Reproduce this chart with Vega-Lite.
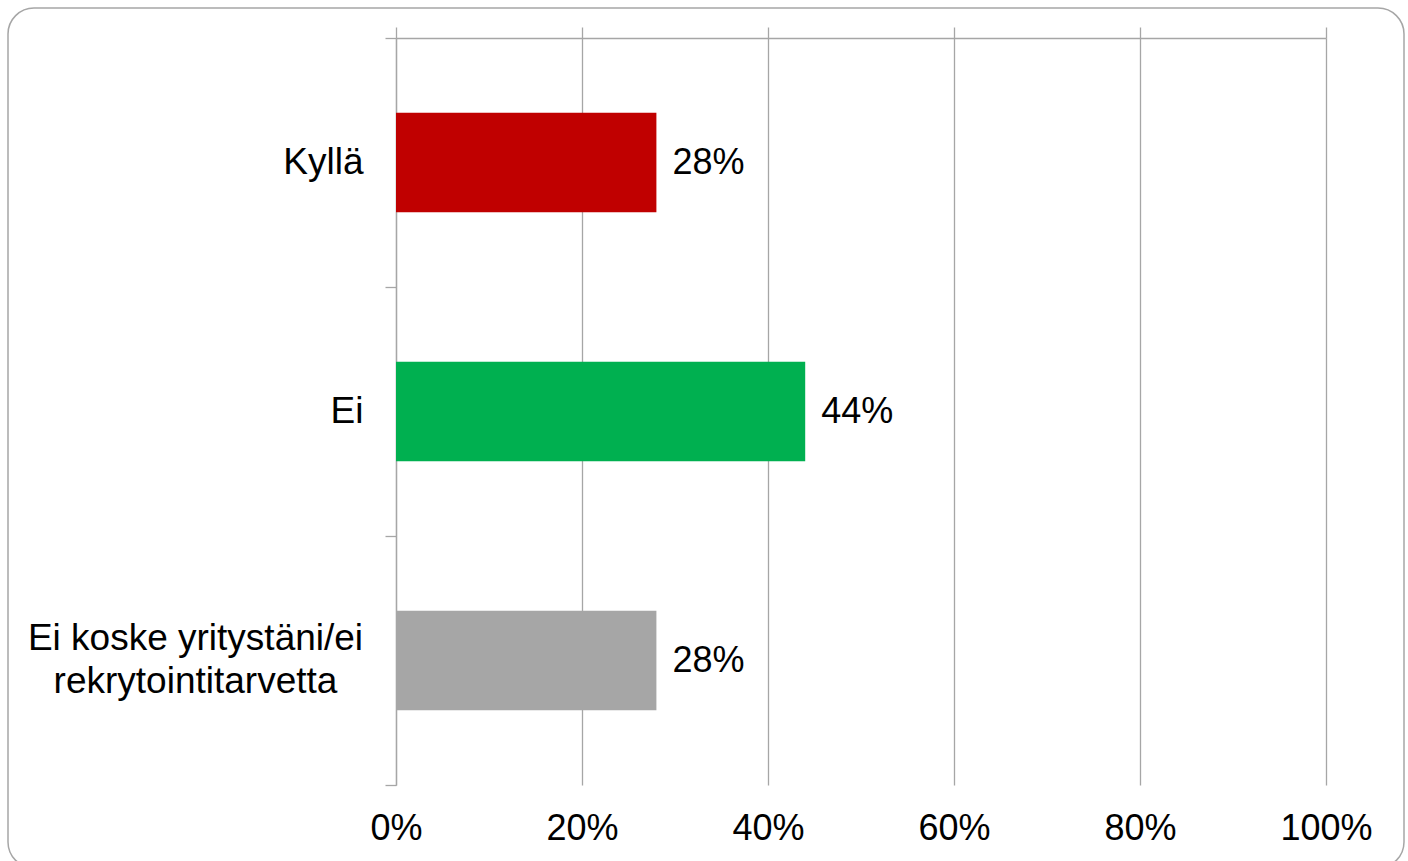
{
  "$schema": "https://vega.github.io/schema/vega-lite/v6.json",
  "autosize": {"type": "none"},
  "padding": {"left": 8, "top": 8, "right": 4, "bottom": 0},
  "width": 1396,
  "height": 860,
  "background": "white",
  "config": {
    "view": {"stroke": "#a6a6a6", "strokeWidth": 1.5, "cornerRadius": 26, "fill": "white"},
    "font": "Liberation Sans",
    "axis": {"labelFont": "Liberation Sans", "labelColor": "#000000"}
  },
  "data": {
    "values": [
      {"category": "Kyllä", "value": 0.28},
      {"category": "Ei", "value": 0.44},
      {"category": "Ei koske yritystäni/ei rekrytointitarvetta", "value": 0.28}
    ]
  },
  "resolve": {"axis": {"x": "independent", "y": "independent"}},
  "layer": [
    {
      "mark": {"type": "bar", "height": {"band": 0.4}},
      "encoding": {
        "x": {
          "field": "value",
          "type": "quantitative",
          "scale": {"domain": [0, 1], "range": [388, 1318], "nice": false},
          "axis": {
            "orient": "top",
            "offset": -30,
            "title": null,
            "labels": false,
            "grid": true,
            "gridColor": "#a6a6a6",
            "gridWidth": 1.3,
            "domain": true,
            "domainColor": "#a6a6a6",
            "domainWidth": 1.3,
            "ticks": true,
            "tickSize": 11,
            "tickColor": "#a6a6a6",
            "tickWidth": 1.3,
            "values": [0, 0.2, 0.4, 0.6, 0.8, 1]
          }
        },
        "y": {
          "field": "category",
          "type": "nominal",
          "sort": ["Kyllä", "Ei", "Ei koske yritystäni/ei rekrytointitarvetta"],
          "scale": {"range": [30, 777], "paddingInner": 0, "paddingOuter": 0},
          "axis": {
            "orient": "left",
            "offset": -388,
            "title": null,
            "grid": false,
            "domain": true,
            "domainColor": "#a6a6a6",
            "domainWidth": 1.3,
            "ticks": true,
            "tickBand": "extent",
            "tickSize": 11,
            "tickColor": "#a6a6a6",
            "tickWidth": 1.3,
            "labelFontSize": 37,
            "labelLimit": 0,
            "labelBaseline": "middle",
            "labelLineHeight": 43,
            "labelExpr": "datum.value == 'Ei koske yritystäni/ei rekrytointitarvetta' ? ['Ei koske yritystäni/ei', 'rekrytointitarvetta'] : datum.value",
            "labelAlign": {"condition": {"test": "datum.value == 'Ei koske yritystäni/ei rekrytointitarvetta'", "value": "center"}, "value": "right"},
            "labelPadding": {"condition": {"test": "datum.value == 'Ei koske yritystäni/ei rekrytointitarvetta'", "value": 190}, "value": 22},
            "labelOffset": {"condition": {"test": "datum.value == 'Ei koske yritystäni/ei rekrytointitarvetta'", "value": -22}, "value": 0}
          }
        },
        "color": {
          "field": "category",
          "type": "nominal",
          "scale": {
            "domain": ["Kyllä", "Ei", "Ei koske yritystäni/ei rekrytointitarvetta"],
            "range": ["#c00000", "#00b050", "#a6a6a6"]
          },
          "legend": null
        }
      }
    },
    {
      "mark": {"type": "text", "align": "left", "baseline": "middle", "dx": 16, "fontSize": 36, "font": "Liberation Sans", "color": "#000000"},
      "encoding": {
        "x": {
          "field": "value",
          "type": "quantitative",
          "axis": {
            "orient": "bottom",
            "offset": -83,
            "title": null,
            "domain": false,
            "ticks": false,
            "tickSize": 0,
            "grid": false,
            "labels": true,
            "labelFontSize": 36,
            "labelPadding": 26,
            "labelFlush": false,
            "labelOverlap": false,
            "format": ".0%",
            "values": [0, 0.2, 0.4, 0.6, 0.8, 1]
          }
        },
        "y": {
          "field": "category",
          "type": "nominal",
          "sort": ["Kyllä", "Ei", "Ei koske yritystäni/ei rekrytointitarvetta"],
          "axis": null
        },
        "text": {"field": "value", "type": "quantitative", "format": ".0%"}
      }
    }
  ]
}
